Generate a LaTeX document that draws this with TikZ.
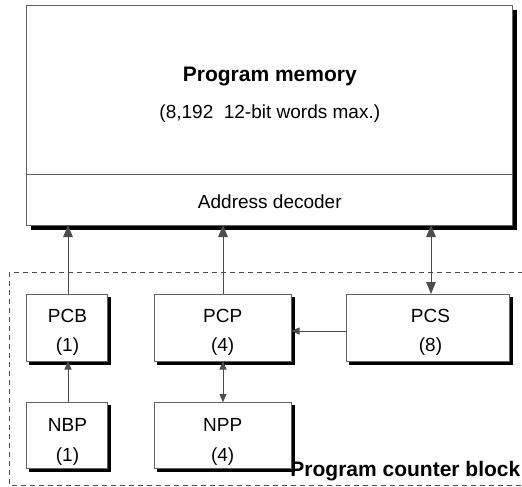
\documentclass[tikz,border=0pt]{standalone}
\usepackage{fontspec}
\setmainfont{Liberation Sans}
\usetikzlibrary{arrows.meta}
\begin{document}
\begin{tikzpicture}[x=1pt,y=-1pt,
  bordercol/.style={draw=black!62, line width=1pt},
  regbox/.style={bordercol, fill=white, rectangle, inner sep=0pt, outer sep=0pt},
  shadebox/.style={fill=black, draw=black, line width=0.5pt, rectangle, inner sep=0pt, outer sep=0pt},
  txt/.style={anchor=base, inner sep=0pt, font=\fontsize{19}{23}\selectfont},
  btxt/.style={anchor=base, inner sep=0pt, font=\fontsize{21}{25}\selectfont\bfseries},
  bigtip/.style={-{Triangle[length=12pt,width=9.5pt]}},
  bigdbl/.style={{Triangle[length=12pt,width=9.5pt]}-{Triangle[length=12pt,width=9.5pt]}},
  smalltip/.style={-{Triangle[length=8.5pt,width=7pt]}},
  smalldbl/.style={{Triangle[length=8.5pt,width=7pt]}-{Triangle[length=8.5pt,width=7pt]}},
  conn/.style={draw=black!70, line width=1pt}
]
\useasboundingbox (0,0) rectangle (522,487);

% program counter block frame
\draw[black!70, line width=1pt, dash pattern=on 5pt off 4pt] (9,272.3) rectangle (525,485.7);
\node[btxt, anchor=base east] (pcblabel) at (520.5,476.5) {Program counter block};

% drop shadows as black nodes behind the boxes
\node[shadebox, minimum width=485.6pt, minimum height=219.3pt] (memsh) at (273.8,119.65) {};
\node[shadebox, minimum width=81pt, minimum height=67pt] (pcbsh) at (70,330.3) {};
\node[shadebox, minimum width=136.7pt, minimum height=67pt] (pcpsh) at (225.5,330.3) {};
\node[shadebox, minimum width=162.3pt, minimum height=67pt] (pcssh) at (430.65,330.3) {};
\node[shadebox, minimum width=81pt, minimum height=66pt] (nbpsh) at (70,438.1) {};
\node[shadebox, minimum width=136.7pt, minimum height=66pt] (nppsh) at (225.5,438.1) {};

% program memory
\node[regbox, minimum width=485.6pt, minimum height=219.3pt] (mem) at (269.5,115.35) {};
\coordinate (divL) at (26.7,174);
\draw[bordercol] (divL) -- (divL -| mem.east);
\node[btxt] (memtitle) at (269.8,81.7) {Program memory};
\node[txt] (memsub) at (269.8,118) {(8,192\ \ 12-bit words max.)};
\node[txt] (addr) at (269.8,208.3) {Address decoder};

% registers
\node[regbox, minimum width=81pt, minimum height=67pt] (pcb) at (67.2,327.5) {};
\node[regbox, minimum width=136.7pt, minimum height=67pt] (pcp) at (222.7,327.5) {};
\node[regbox, minimum width=162.3pt, minimum height=67pt] (pcs) at (427.85,327.5) {};
\node[regbox, minimum width=81pt, minimum height=66pt] (nbp) at (67.2,435.3) {};
\node[regbox, minimum width=136.7pt, minimum height=66pt] (npp) at (222.7,435.3) {};

\node[txt] (pcbname) at (67.5,322.3) {PCB};
\node[txt] (pcbnum) at (67.5,351.5) {(1)};
\node[txt] (pcpname) at (222.7,322.3) {PCP};
\node[txt] (pcpnum) at (222.7,351.5) {(4)};
\node[txt] (pcsname) at (430.5,322.3) {PCS};
\node[txt] (pcsnum) at (430.5,351.5) {(8)};
\node[txt] (nbpname) at (67.5,431.7) {NBP};
\node[txt] (nbpnum) at (67.5,461) {(1)};
\node[txt] (nppname) at (222.7,431.7) {NPP};
\node[txt] (nppnum) at (222.7,461) {(4)};

% connectors
\coordinate (xb) at (68,0);
\coordinate (xp) at (223,0);
\coordinate (xs) at (431,0);
\draw[conn, bigtip] (pcb.north -| xb) -- (mem.south -| xb);
\draw[conn, bigtip] (pcp.north -| xp) -- (mem.south -| xp);
\draw[conn, bigdbl] (mem.south -| xs) -- (pcs.north -| xs);
\coordinate (yh) at (0,331);
\draw[conn, smalltip] (pcs.west |- yh) -- (pcp.east |- yh);
\draw[conn, smalltip] (nbp.north -| xb) -- (pcb.south -| xb);
\draw[conn, smalldbl] (pcp.south -| xp) -- (npp.north -| xp);
\end{tikzpicture}
\end{document}
